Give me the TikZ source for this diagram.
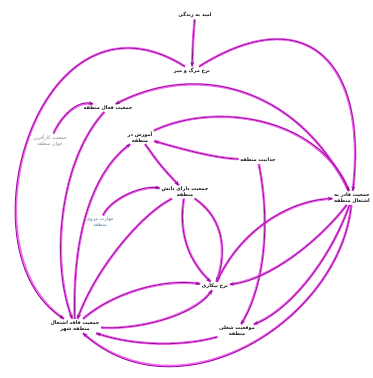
\documentclass[tikz,border=0pt]{standalone}
\usepackage{fontspec}
\newfontfamily\fafont[Script=Arabic]{DejaVu Sans}
\TeXXeTstate=1
\usetikzlibrary{arrows.meta}
\newcommand{\fa}[1]{{\fafont\beginR #1\endR}}
\definecolor{core}{RGB}{140,20,140}
\definecolor{glow}{RGB}{240,50,240}
\begin{document}
\begin{tikzpicture}[x=0.75pt,y=-0.75pt,
 lbl/.style={font=\fontsize{3.7}{4.6}\selectfont\bfseries, align=center, inner sep=1pt, text=black!90},
 lblgray/.style={lbl, font=\fontsize{3.7}{4.6}\selectfont, text=black!45},
 lblblue/.style={lbl, font=\fontsize{3.7}{4.6}\selectfont, text={rgb,255:red,90;green,125;blue,150}},
 link/.style={-{Stealth[length=3.4pt,width=2.8pt]}, draw=core, line width=0.55pt,
   preaction={draw=glow, line width=1.9pt, opacity=0.75, -}},
]
\fill[white] (0,0) rectangle (372,378);
\useasboundingbox (0,0) rectangle (372,378);

\node[lbl] (A) at (195,15) {\fa{امید به زندگی}};
\node[lbl] (B) at (192,71) {\fa{نرخ مرگ و میر}};
\node[lbl] (C) at (108,108) {\fa{جمعیت فعال منطقه}};
\node[lblgray] (D) at (50,141) {\fa{جمعیت کارآفرین}\\\fa{جوان منطقه}};
\node[lbl] (E) at (140,137) {\fa{آموزش در}\\\fa{منطقه}};
\node[lbl] (F) at (258,160) {\fa{جذابیت منطقه}};
\node[lbl] (G) at (185,192) {\fa{جمعیت دارای دانش}\\\fa{منطقه}};
\node[lblblue] (H) at (100,222) {\fa{مهارت نیروی}\\\fa{منطقه}};
\node[lbl] (I) at (352,198) {\fa{جمعیت قادر به}\\\fa{اشتغال منطقه}};
\node[lbl] (J) at (215,286) {\fa{نرخ بیکاری}};
\node[lbl] (K) at (75,326) {\fa{جمعیت فاقد اشتغال}\\\fa{منطقه شهر}};
\node[lbl] (L) at (237,331) {\fa{موقعیت شغلی}\\\fa{منطقه}};

\draw[link] (A) .. controls (193,40) .. (B);
\draw[link] (B) .. controls (40,-25) and (-42,250) .. (K);
\draw[link] (B) .. controls (305,0) and (368,60) .. (I);
\draw[link] (I) .. controls (300,90) and (200,60) .. (C);
\draw[link] (E) .. controls (220,100) and (320,120) .. (I);
\draw[link] (F) .. controls (215,158) and (185,150) .. (E);
\draw[link] (F) .. controls (272,230) and (262,290) .. (L);
\draw[link] (E) .. controls (160,165) .. (G);
\draw[link] (D) .. controls (62,115) and (78,100) .. (C);
\draw[link] (C) .. controls (60,160) and (50,260) .. (K);
\draw[link] (K) .. controls (72,230) and (95,170) .. (E);
\draw[link] (H) .. controls (110,200) and (140,185) .. (G);
\draw[link] (G) .. controls (140,215) and (95,270) .. (K);
\draw[link] (G) .. controls (178,235) and (190,262) .. (J);
\draw[link] (G) .. controls (226,220) and (226,255) .. (J);
\draw[link] (J) .. controls (240,230) and (290,200) .. (I);
\draw[link] (I) .. controls (320,240) and (270,280) .. (J);
\draw[link] (K) .. controls (110,295) and (160,278) .. (J);
\draw[link] (K) .. controls (140,330) and (195,315) .. (J);
\draw[link] (L) .. controls (190,345) and (140,348) .. (K);
\draw[link] (I) .. controls (330,260) and (290,310) .. (L);
\draw[link] (I) .. controls (340,320) and (180,420) .. (K);
\end{tikzpicture}
\end{document}
